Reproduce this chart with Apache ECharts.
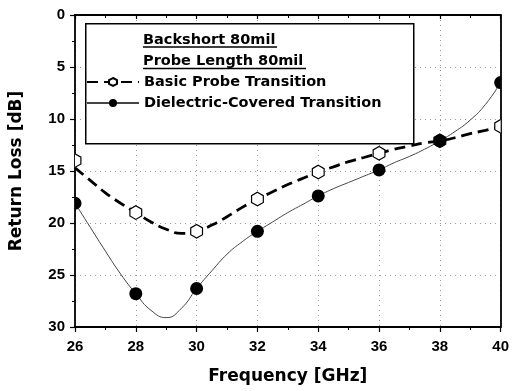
<!DOCTYPE html>
<html>
<head>
<meta charset="utf-8">
<script src="https://cdn.jsdelivr.net/npm/echarts@6/dist/echarts.min.js"></script>
<style>
  html, body { margin: 0; padding: 0; background: #fff; }
  #chart { width: 512px; height: 391px; }
</style>
</head>
<body>
<div id="chart"></div>
<script>
// measured points (every 2 GHz)
const freqs = [26, 28, 30, 32, 34, 36, 38, 40]
const basicPts = [14.0, 19.0, 20.8, 17.7, 15.1, 13.3, 12.1, 10.7]
const dielPts = [18.1, 26.8, 26.3, 20.8, 17.4, 14.9, 12.1, 6.5]

// fitted curves, every 0.5 GHz
const curveFreqs = [26, 26.5, 27, 27.5, 28, 28.5, 29, 29.5, 30, 30.5, 31, 31.5, 32, 32.5, 33,
  33.5, 34, 34.5, 35, 35.5, 36, 36.5, 37, 37.5, 38, 38.5, 39, 39.5, 40]
const basicCurve = [14.7, 15.9, 17.1, 18.1, 19.0, 19.9, 20.6, 21.0, 20.8, 20.2, 19.4, 18.5, 17.7, 17.0, 16.3,
  15.7, 15.1, 14.6, 14.1, 13.7, 13.3, 12.9, 12.6, 12.3, 12.1, 11.8, 11.4, 11.1, 10.7]
const dielCurve = [18.1, 20.4, 22.7, 24.9, 26.8, 28.4, 29.1, 28.2, 26.3, 24.6, 23.0, 21.8, 20.8, 19.9, 19.0,
  18.2, 17.4, 16.7, 16.1, 15.5, 14.9, 14.2, 13.6, 12.9, 12.1, 11.2, 10.1, 8.6, 6.5]

const xTicks = [26, 40, 2]
const yTicks = [0, 30, 5]

const seriesNames = ["Basic Probe Transition", "Dielectric-Covered Transition"]
const headerLines = ["Backshort 80mil", "Probe Length 80mil"]

const hexagon = "path://M0,-10 L8.66,-5 L8.66,5 L0,10 L-8.66,5 L-8.66,-5 Z"
const font = "'DejaVu Sans', Verdana, sans-serif"
const tickFont = "Arial, 'Liberation Sans', Helvetica, sans-serif"

const pair = (xs, ys) => xs.map((x, i) => [x, ys[i]])

const chart = echarts.init(document.getElementById("chart"), null, { renderer: "canvas" })

const axisLine = { show: true, onZero: false, lineStyle: { color: "#000", width: 1.8 } }
const outTicks = {
  axisTick: { show: true, inside: false, length: 5, lineStyle: { color: "#000", width: 1.2 } },
  minorTick: { show: true, splitNumber: 2, length: 3, lineStyle: { color: "#000", width: 1 } },
}
const labelStyle = { fontFamily: tickFont, fontWeight: "bold", fontSize: 15, color: "#000", margin: 10 }
const gridLine = { show: true, lineStyle: { color: "#999", type: [1, 4], width: 1 } }

// markers drawn by a custom series, clipped at the frame like the original
function markerSeries(name, data, hollow) {
  return {
    name,
    type: "custom",
    data,
    z: 3,
    renderItem(params, api) {
      const p = api.coord([api.value(0), api.value(1)])
      const cs = params.coordSys
      const clipPath = { type: "rect", shape: { x: cs.x, y: cs.y, width: cs.width, height: cs.height } }
      if (!hollow) {
        return { type: "circle", shape: { cx: p[0], cy: p[1], r: 6.5 }, style: { fill: "#000" }, clipPath }
      }
      const r = 6.8
      const pts = []
      for (let k = 0; k < 6; k++) {
        const a = -Math.PI / 2 + k * Math.PI / 3
        pts.push([p[0] + r * Math.cos(a), p[1] + r * Math.sin(a)])
      }
      return {
        type: "polygon", shape: { points: pts },
        style: { fill: "#fff", stroke: "#000", lineWidth: 1.2 }, clipPath,
      }
    },
  }
}

chart.setOption({
  backgroundColor: "#fff",
  animation: false,
  grid: { left: 75, right: 10, top: 15, bottom: 64, containLabel: false },
  xAxis: [
    {
      type: "value",
      min: xTicks[0], max: xTicks[1], interval: xTicks[2],
      name: "Frequency [GHz]",
      nameLocation: "middle",
      nameGap: 41,
      nameTextStyle: { fontFamily: font, fontWeight: "bold", fontSize: 17, color: "#000" },
      axisLabel: { ...labelStyle, margin: 12 },
      splitLine: gridLine,
      axisLine,
      ...outTicks,
    },
    {
      type: "value", position: "top",
      min: xTicks[0], max: xTicks[1], interval: xTicks[2],
      axisLabel: { show: false },
      splitLine: { show: false },
      axisLine,
      axisTick: { show: true, inside: true, length: 4, lineStyle: { color: "#000", width: 1.2 } },
      minorTick: { show: true, splitNumber: 2, length: 3, lineStyle: { color: "#000", width: 1 } },
    },
  ],
  yAxis: [
    {
      type: "value", inverse: true,
      min: yTicks[0], max: yTicks[1], interval: yTicks[2],
      name: "Return Loss [dB]",
      nameLocation: "middle",
      nameGap: 50,
      nameTextStyle: { fontFamily: font, fontWeight: "bold", fontSize: 17, color: "#000" },
      axisLabel: labelStyle,
      splitLine: gridLine,
      axisLine,
      ...outTicks,
    },
    {
      type: "value", inverse: true, position: "right",
      min: yTicks[0], max: yTicks[1], interval: yTicks[2],
      axisLabel: { show: false },
      splitLine: { show: false },
      axisLine,
      axisTick: { show: false },
    },
  ],
  legend: {
    data: seriesNames,
    orient: "vertical",
    left: 86,
    top: 74.5,
    padding: 0,
    itemWidth: 52,
    itemHeight: 10,
    itemGap: 6,
    selectedMode: false,
    textStyle: { fontFamily: font, fontWeight: "bold", fontSize: 14.5, color: "#000" },
    z: 10,
  },
  graphic: [
    {
      type: "rect", left: 85, top: 23, z: 5,
      shape: { width: 328, height: 120 },
      style: { fill: "#fff", stroke: "#000", lineWidth: 1.5 },
    },
    {
      type: "text", x: 143, y: 40, z: 6,
      style: { text: headerLines[0], font: "bold 14.5px " + font, fill: "#000", verticalAlign: "middle" },
    },
    {
      type: "line", z: 6,
      shape: { x1: 143, y1: 47, x2: 277, y2: 47 },
      style: { stroke: "#000", lineWidth: 1.3 },
    },
    {
      type: "text", x: 143, y: 61.5, z: 6,
      style: { text: headerLines[1], font: "bold 14.5px " + font, fill: "#000", verticalAlign: "middle" },
    },
    {
      type: "line", z: 6,
      shape: { x1: 143, y1: 68.5, x2: 306, y2: 68.5 },
      style: { stroke: "#000", lineWidth: 1.3 },
    },
  ],
  series: [
    {
      name: seriesNames[0],
      type: "line",
      data: pair(curveFreqs, basicCurve),
      smooth: true,
      showSymbol: false,
      symbol: hexagon,
      symbolSize: 10,
      itemStyle: { color: "#fff", borderColor: "#000", borderWidth: 1.2 },
      lineStyle: { color: "#000", width: 2.8, type: [11, 6] },
      z: 2,
    },
    {
      name: seriesNames[1],
      type: "line",
      data: pair(curveFreqs, dielCurve),
      smooth: true,
      showSymbol: false,
      symbol: "circle",
      symbolSize: 10,
      itemStyle: { color: "#000" },
      lineStyle: { color: "#444", width: 1 },
      z: 2,
    },
    markerSeries("basic-points", pair(freqs, basicPts), true),
    markerSeries("diel-points", pair(freqs, dielPts), false),
  ],
})
</script>
</body>
</html>
